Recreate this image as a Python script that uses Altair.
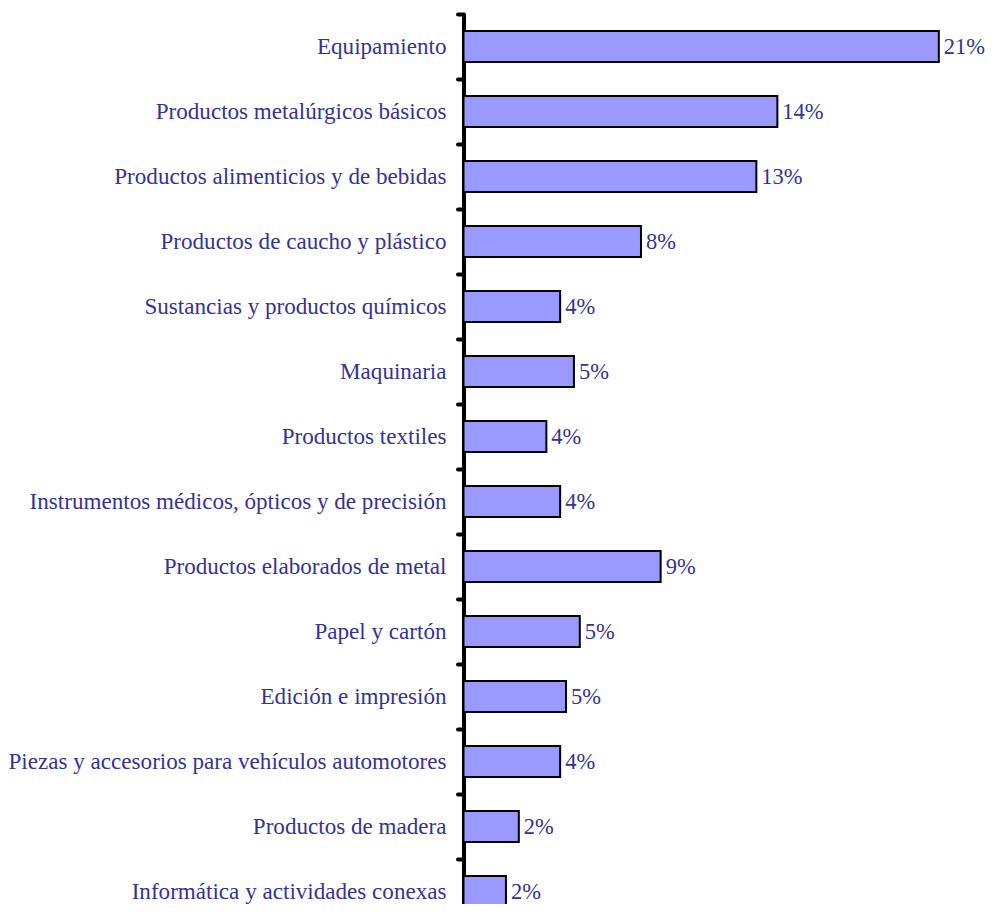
import altair as alt
import pandas as pd

categories = [
    "Equipamiento",
    "Productos metalúrgicos básicos",
    "Productos alimenticios y de bebidas",
    "Productos de caucho y plástico",
    "Sustancias y productos químicos",
    "Maquinaria",
    "Productos textiles",
    "Instrumentos médicos, ópticos y de precisión",
    "Productos elaborados de metal",
    "Papel y cartón",
    "Edición e impresión",
    "Piezas y accesorios para vehículos automotores",
    "Productos de madera",
    "Informática y actividades conexas",
]
values = [21.05, 13.9, 12.97, 7.86, 4.28, 4.89, 3.67, 4.28, 8.73, 5.15, 4.54, 4.28, 2.45, 1.88]
labels = ["21%", "14%", "13%", "8%", "4%", "5%", "4%", "4%", "9%", "5%", "5%", "4%", "2%", "2%"]

df = pd.DataFrame({"cat": categories, "val": values, "lab": labels})

FONT = "Liberation Serif"
TXT = "#333399"
FS = 23.1
FS_VAL = 22.5

y = alt.Y(
    "cat:N",
    sort=categories,
    title=None,
    scale=alt.Scale(range=[0, 910], paddingInner=0, paddingOuter=0),
    axis=alt.Axis(
        tickBand="extent",
        domainColor="black",
        domainWidth=4,
        tickColor="black",
        tickWidth=4,
        tickSize=6,
        tickCap="round",
        labelFont=FONT,
        labelFontSize=FS,
        labelColor=TXT,
        labelPadding=11.5,
        labelLimit=0,
    ),
)
x = alt.X(
    "val:Q",
    scale=alt.Scale(domain=[0, 21.7], nice=False),
    axis=None,
)

bars = alt.Chart(df).mark_bar(
    fill="#9999FF", stroke="black", strokeWidth=2, height={"band": 0.48}
).encode(x=x, y=y)

text = alt.Chart(df).mark_text(
    align="left", baseline="middle", dx=5, font=FONT, fontSize=FS_VAL, color=TXT
).encode(x=x, y=y, text="lab:N")

chart = (
    (bars + text)
    .properties(
        width=490,
        height=890,
        background="white",
        autosize=alt.AutoSizeParams(type="none"),
        padding={"left": 455.5, "top": 6, "right": 33.5, "bottom": 0},
    )
    .configure_view(strokeWidth=0, stroke="transparent")
)

chart.save("out.html", embed_options={"renderer": "svg", "actions": False})
